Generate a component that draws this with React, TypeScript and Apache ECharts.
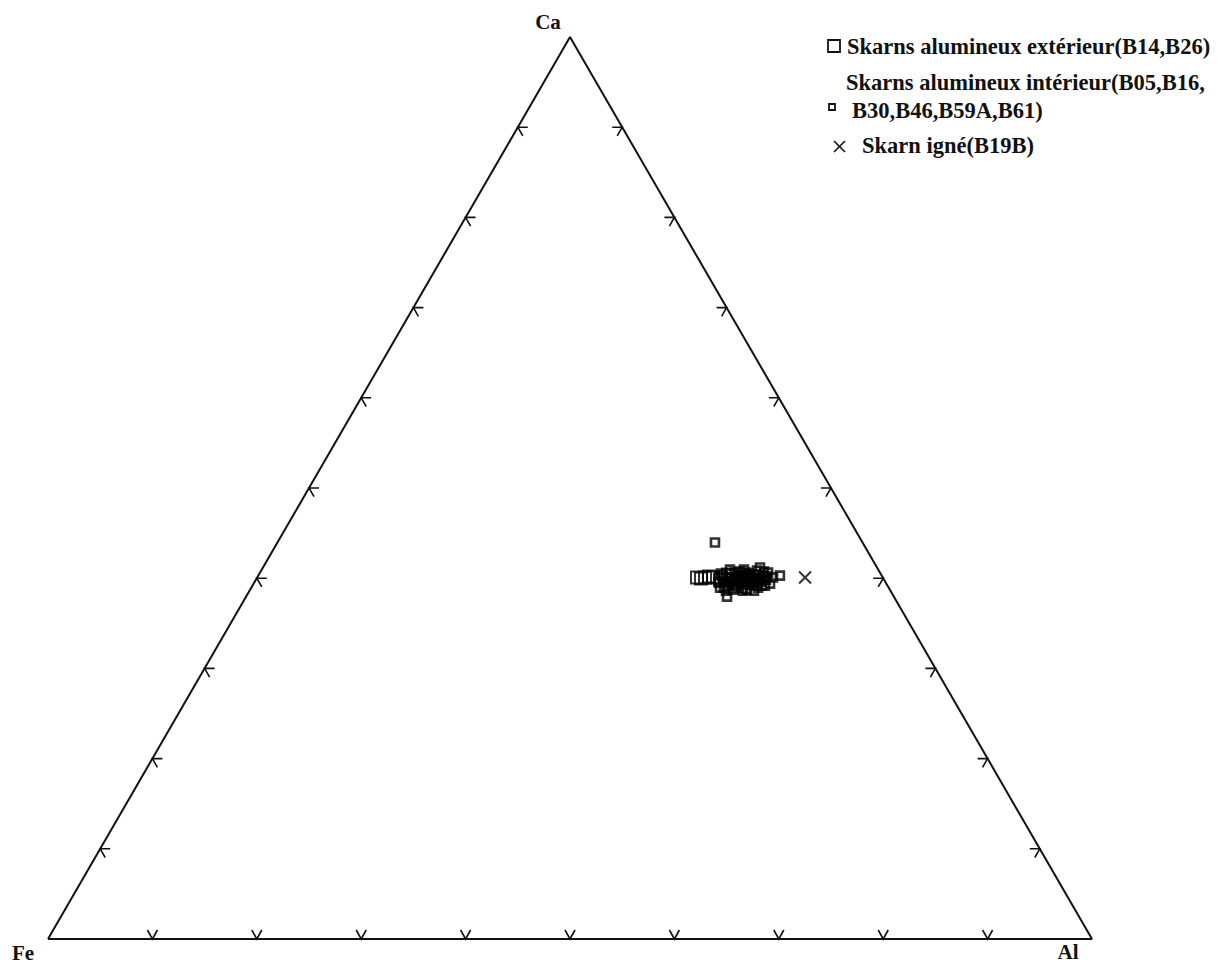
import React, { useEffect, useRef } from "react";
import * as echarts from "echarts";

// Ternary compositions [Fe, Al, Ca] in percent
const exterieur: number[][] = [
  [17.8, 42.13, 40.07],
  [17.47, 42.57, 39.96],
  [17.03, 42.9, 40.07],
  [16.6, 43.22, 40.18],
  [16.26, 43.67, 40.07],
  [15.71, 44.45, 39.84],
  [14.67, 44.93, 40.4],
  [14.12, 45.92, 39.96],
  [13.24, 46.58, 40.18],
  [12.65, 47.51, 39.84],
];

const interieur: number[][] = [
  [14.14, 41.91, 43.95],
  [15.98, 46.06, 37.96],
  [11.21, 47.61, 41.18],
  [11.73, 49.09, 39.18],
  [10.52, 49.41, 40.07],
  [9.75, 49.96, 40.29],
  [15.3, 44.41, 40.29],
  [15.34, 45.04, 39.62],
  [15.28, 45.54, 39.18],
  [14.33, 45.16, 40.51],
  [14.37, 45.79, 39.84],
  [14.52, 46.52, 38.96],
  [13.36, 45.91, 40.73],
  [13.77, 46.72, 39.51],
  [13.15, 46.67, 40.18],
  [13.69, 47.58, 38.73],
  [12.51, 46.98, 40.51],
  [12.93, 47.78, 39.29],
  [12.3, 47.74, 39.96],
  [11.67, 47.49, 40.84],
  [12.51, 48.53, 38.96],
  [11.89, 48.49, 39.62],
  [11.37, 48.34, 40.29],
  [11.31, 48.85, 39.84],
  [10.72, 48.66, 40.62],
  [11.14, 49.46, 39.4],
  [15.77, 45.27, 38.96],
  [15.03, 46.24, 38.73],
  [12.86, 46.19, 40.95],
  [12.99, 47.28, 39.73],
  [13.07, 48.31, 38.62],
  [13.87, 46.06, 40.07],
  [15.97, 44.52, 39.51],
  [14.09, 47.06, 38.85],
  [15.29, 44.2, 40.51],
  [15.36, 44.68, 39.96],
  [15.75, 45.63, 38.62],
  [14.73, 45.2, 40.07],
  [14.78, 45.82, 39.4],
  [13.89, 45.49, 40.62],
  [14.51, 46.31, 39.18],
  [13.95, 46.32, 39.73],
  [13.48, 46.23, 40.29],
  [14.12, 47.26, 38.62],
  [12.83, 46.55, 40.62],
  [13.5, 47.21, 39.29],
  [12.91, 47.02, 40.07],
  [12.57, 47.25, 40.18],
  [12.66, 47.72, 39.62],
  [11.98, 47.62, 40.4],
  [12.59, 48.23, 39.18],
  [11.92, 48.12, 39.96],
  [12.02, 48.8, 39.18],
  [11.06, 48.21, 40.73],
  [11.04, 48.78, 40.18],
  [14.2, 44.85, 40.95],
  [16.15, 44.89, 38.96],
];

const igne: number[][] = [[7.45, 52.48, 40.07]];

const tickValues = [10, 20, 30, 40, 50, 60, 70, 80, 90];
const vertexLabels = ["Fe", "Al", "Ca"];

const legendLabels = [
  "Skarns alumineux extérieur(B14,B26)",
  "Skarns alumineux intérieur(B05,B16,",
  "B30,B46,B59A,B61)",
  "Skarn igné(B19B)",
];

const H = Math.sqrt(3) / 2;
const toXY = (c: number[]) => [c[1] + c[2] / 2, c[2] * H];

export default function App() {
  const ref = useRef<HTMLDivElement>(null);
  useEffect(() => {
    if (!ref.current) return;
    const chart = echarts.init(ref.current, null, { renderer: "svg" });
    const font = "Liberation Serif";

    const tickData: number[][] = [];
    tickValues.forEach((t) => {
      tickData.push([t, 0]);
      tickData.push([t, 1]);
      tickData.push([t, 2]);
    });

    const textStyle = (text: string, x: number, y: number, size = 22.5, align = "left") => ({
      type: "text",
      x,
      y,
      style: {
        text,
        fontFamily: font,
        fontSize: size,
        fontWeight: "bold",
        fill: "#111",
        textAlign: align,
        textVerticalAlign: "middle",
      },
    });

    chart.setOption({
      animation: false,
      backgroundColor: "#fff",
      grid: { left: 48, top: 37, width: 1044, height: 902 },
      xAxis: { type: "value", min: 0, max: 100, show: false },
      yAxis: { type: "value", min: 0, max: 50 * Math.sqrt(3), show: false },
      series: [
        {
          type: "line",
          data: [[0, 0], [100, 0], [50, 50 * Math.sqrt(3)], [0, 0]],
          symbol: "none",
          lineStyle: { color: "#111", width: 2 },
          silent: true,
        },
        {
          type: "custom",
          data: tickData,
          silent: true,
          renderItem: (params: any, api: any) => {
            const t = api.value(0);
            const e = api.value(1);
            let p: number[];
            let pts: number[][];
            if (e === 0) {
              p = api.coord([t, 0]);
              pts = [[p[0] - 5, p[1] - 9], p, [p[0] + 5, p[1] - 9]];
            } else if (e === 1) {
              p = api.coord([t / 2, t * H]);
              pts = [[p[0] + 10, p[1]], p, [p[0] + 5, p[1] + 8.7]];
            } else {
              p = api.coord([100 - t / 2, t * H]);
              pts = [[p[0] - 10, p[1]], p, [p[0] - 5, p[1] + 8.7]];
            }
            return {
              type: "polyline",
              shape: { points: pts },
              style: { stroke: "#111", lineWidth: 1.6, fill: null },
            };
          },
        },
        {
          name: legendLabels[0],
          type: "scatter",
          data: exterieur.map(toXY),
          symbol: "rect",
          symbolSize: 12,
          itemStyle: { color: "rgba(0,0,0,0)", borderColor: "#000", borderWidth: 2 },
        },
        {
          name: legendLabels[1],
          type: "scatter",
          data: interieur.map(toXY),
          symbol: "rect",
          symbolSize: 8,
          itemStyle: { color: "rgba(0,0,0,0)", borderColor: "#000", borderWidth: 2.6 },
        },
        {
          name: legendLabels[3],
          type: "scatter",
          data: igne.map(toXY),
          symbol: "path://M0,0L10,10M10,0L0,10",
          symbolSize: 12,
          itemStyle: { color: "rgba(0,0,0,0)", borderColor: "#000", borderWidth: 2 },
        },
      ],
      graphic: [
        textStyle(vertexLabels[2], 548, 22, 21, "center"),
        textStyle(vertexLabels[0], 23, 953, 21, "center"),
        textStyle(vertexLabels[1], 1068, 952, 21, "center"),
        {
          type: "rect",
          shape: { x: 828, y: 40, width: 12, height: 12 },
          style: { fill: "none", stroke: "#111", lineWidth: 1.8 },
        },
        textStyle(legendLabels[0], 847, 46),
        {
          type: "rect",
          shape: { x: 829, y: 104, width: 6, height: 6 },
          style: { fill: "none", stroke: "#111", lineWidth: 1.8 },
        },
        textStyle(legendLabels[1], 846, 82),
        textStyle(legendLabels[2], 852, 110),
        {
          type: "line",
          shape: { x1: 834, y1: 141, x2: 845, y2: 152 },
          style: { stroke: "#111", lineWidth: 1.6 },
        },
        {
          type: "line",
          shape: { x1: 845, y1: 141, x2: 834, y2: 152 },
          style: { stroke: "#111", lineWidth: 1.6 },
        },
        textStyle(legendLabels[3], 862, 145),
      ],
    });
    return () => chart.dispose();
  }, []);
  return (
    <div
      ref={ref}
      style={{ position: "absolute", left: 0, top: 0, width: 1227, height: 964 }}
    />
  );
}
